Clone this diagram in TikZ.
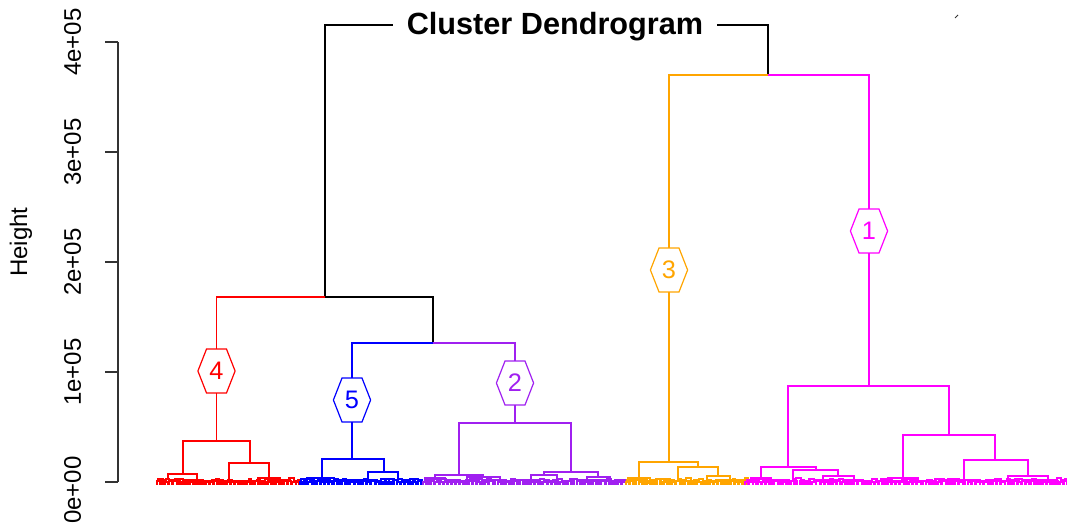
\documentclass[tikz,border=0pt]{standalone}
\usepackage{fontspec}
\setmainfont{Liberation Sans}
\definecolor{cred}{HTML}{FF0000}
\definecolor{cblue}{HTML}{0000FF}
\definecolor{cpurple}{HTML}{A020F0}
\definecolor{corange}{HTML}{FFA500}
\definecolor{cmag}{HTML}{FF00FF}
\definecolor{axisgray}{HTML}{333333}

\tikzset{
  branch/.style={line width=1.3pt},
  leaf/.style={line width=1.5pt},
  axisline/.style={line width=1pt, draw=axisgray},
  ticklab/.style={rotate=90, font=\fontsize{18}{20}\selectfont, inner sep=0pt},
  hexnum/.style={minimum width=27.5pt, minimum height=32.5pt, inner sep=0pt,
                 font=\fontsize{19}{21}\selectfont},
  hexline/.style={line width=0.9pt}
}

% cluster number in a stretched hexagon
\newcommand\hexlab[5]{% name, x, y, colour, text
  \node[hexnum, text=#4] (#1) at (#2,#3) {#5};
  \draw[hexline, #4] (#1.west) -- ([xshift=-7.5pt]#1.north) -- ([xshift=7.5pt]#1.north)
    -- (#1.east) -- ([xshift=7.5pt]#1.south) -- ([xshift=-7.5pt]#1.south) -- cycle;
}

% dense low merges along the leaf line
\newcommand\leafband[5]{% colour, start x, count, step, seed
  \pgfmathsetseed{#5}%
  \foreach \i in {0,...,#3}{%
    \pgfmathsetmacro\xa{#2+\i*#4}%
    \pgfmathsetmacro\w{0.45*#4+rnd*0.4*#4}%
    \pgfmathsetmacro\h{482.5-rnd*1.5}%
    \draw[leaf,#1] (\xa,484.5) -- (\xa,\h) -- (\xa+\w,\h) -- (\xa+\w,484.5);
    \pgfmathsetmacro\hh{\h-1-rnd*1.8}%
    \pgfmathsetmacro\xm{\xa+\w/2}%
    \pgfmathsetmacro\wb{#4*(0.6+rnd*0.6)}%
    \draw[leaf,#1] (\xm,\h) -- (\xm,\hh) -- (\xm+\wb,\hh) -- (\xm+\wb,\h);
  }%
}

\begin{document}
\begin{tikzpicture}[x=0.75pt, y=-0.75pt, line join=miter]
\useasboundingbox (0,0) rectangle (1067,525);

% ---------- axis ----------
\draw[axisline] (118,42) -- (118,482);
\foreach \yy in {42,152,262,372,482}
  \draw[axisline] (105,\yy) -- (118,\yy);
\node[ticklab] (t4) at (72.5,42) {4e+05};
\node[ticklab] (t3) at (72.5,152) {3e+05};
\node[ticklab] (t2) at (72.5,262) {2e+05};
\node[ticklab] (t1) at (72.5,372) {1e+05};
\node[ticklab] (t0) at (72.5,490) {0e+00};
\node[ticklab] (ylab) at (21,242) {Height};

% ---------- top of the tree ----------
\draw[branch] (325,297) -- (325,25) -- (768,25) -- (768,75);
\node[fill=white, inner xsep=10pt, inner ysep=2pt,
      font=\fontsize{23}{26}\selectfont\bfseries] (title) at (555,27) {Cluster Dendrogram};
\draw[branch] (325,297) -- (433,297) -- (433,343);

% ---------- cluster 4 (red) ----------
\hexlab{h4}{216.5}{371}{cred}{4}
\draw[branch,cred] (325,297) -- (216.5,297) -- (h4.north);
\draw[branch,cred] (h4.south) -- (216.5,441);
\draw[branch,cred] (183,474) -- (183,441) -- (250,441) -- (250,463);
\draw[branch,cred] (168,480) -- (168,474) -- (197,474) -- (197,480);
\draw[branch,cred] (229,481) -- (229,463) -- (269,463) -- (269,478);
\draw[branch,cred] (258,481) -- (258,478) -- (280,478) -- (280,481);
\leafband{cred}{157}{34}{4.1}{11}

% ---------- cluster 5 (blue) ----------
\hexlab{h5}{352}{400}{cblue}{5}
\draw[branch,cblue] (433,343) -- (352,343) -- (h5.north);
\draw[branch,cblue] (h5.south) -- (352,459);
\draw[branch,cblue] (322,478) -- (322,459) -- (384,459) -- (384,472);
\draw[branch,cblue] (307,481) -- (307,478) -- (334,478) -- (334,481);
\draw[branch,cblue] (368,481) -- (368,472) -- (398,472) -- (398,479);
\leafband{cblue}{300}{28}{4.2}{23}

% ---------- cluster 2 (purple) ----------
\hexlab{h2}{515}{383}{cpurple}{2}
\draw[branch,cpurple] (433,343) -- (515,343) -- (h2.north);
\draw[branch,cpurple] (h2.south) -- (515,423);
\draw[branch,cpurple] (459,475) -- (459,423) -- (571,423) -- (571,472);
\draw[branch,cpurple] (435,478) -- (435,475) -- (483,475) -- (483,477);
\draw[branch,cpurple] (425,481) -- (425,478) -- (445,478) -- (445,481);
\draw[branch,cpurple] (467,481) -- (467,477) -- (500,477) -- (500,481);
\draw[branch,cpurple] (544,475) -- (544,472) -- (598,472) -- (598,477);
\draw[branch,cpurple] (531,481) -- (531,475) -- (557,475) -- (557,481);
\draw[branch,cpurple] (587,481) -- (587,477) -- (610,477) -- (610,481);
\leafband{cpurple}{423}{48}{4.15}{37}

% ---------- cluster 3 (orange) ----------
\hexlab{h3}{669}{270}{corange}{3}
\draw[branch,corange] (768,75) -- (669,75) -- (h3.north);
\draw[branch,corange] (h3.south) -- (669,462);
\draw[branch,corange] (639,478) -- (639,462) -- (698,462) -- (698,467);
\draw[branch,corange] (628,481) -- (628,478) -- (650,478) -- (650,481);
\draw[branch,corange] (678,481) -- (678,467) -- (718,467) -- (718,476);
\draw[branch,corange] (707,481) -- (707,476) -- (730,476) -- (730,481);
\leafband{corange}{626}{28}{4.2}{41}

% ---------- cluster 1 (magenta) ----------
\hexlab{h1}{869}{231}{cmag}{1}
\draw[branch,cmag] (768,75) -- (869,75) -- (h1.north);
\draw[branch,cmag] (h1.south) -- (869,386);
\draw[branch,cmag] (788,467) -- (788,386) -- (949,386) -- (949,435);
\draw[branch,cmag] (761,478) -- (761,467) -- (816,467) -- (816,470);
\draw[branch,cmag] (751,481) -- (751,478) -- (771,478) -- (771,481);
\draw[branch,cmag] (793,481) -- (793,470) -- (838,470) -- (838,476);
\draw[branch,cmag] (823,481) -- (823,476) -- (854,476) -- (854,481);
\draw[branch,cmag] (903,478) -- (903,435) -- (995,435) -- (995,460);
\draw[branch,cmag] (888,481) -- (888,478) -- (918,478) -- (918,481);
\draw[branch,cmag] (964,481) -- (964,460) -- (1028,460) -- (1028,476);
\draw[branch,cmag] (1008,481) -- (1008,476) -- (1048,476) -- (1048,481);
\leafband{cmag}{745}{76}{4.2}{53}

% small stray mark near the top edge
\draw[line width=0.6pt, axisgray] (955,18) -- (958,15);
\end{tikzpicture}
\end{document}
